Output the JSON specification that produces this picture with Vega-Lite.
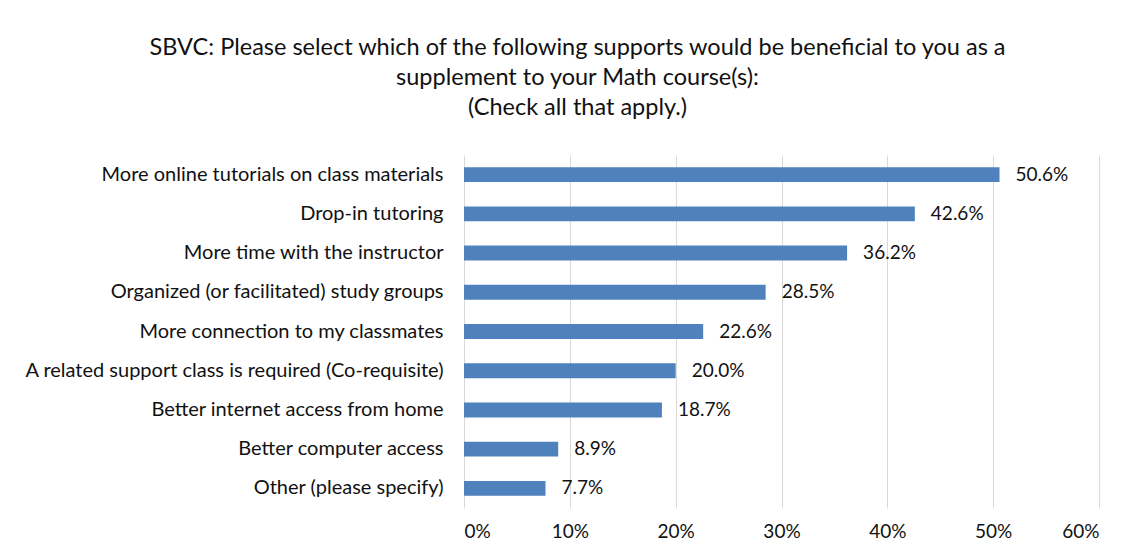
{
  "$schema": "https://vega.github.io/schema/vega-lite/v6.json",
  "width": 635,
  "height": 353,
  "autosize": {"type": "none"},
  "padding": {"left": 464, "top": 155, "right": 37, "bottom": 52},
  "background": "white",
  "title": {
    "text": ["SBVC: Please select which of the following supports would be beneficial to you as a", "supplement to your Math course(s):", "(Check all that apply.)"],
    "font": "Lato",
    "fontSize": 23.5,
    "fontWeight": "normal",
    "color": "#111111",
    "lineHeight": 30,
    "anchor": "middle",
    "dx": -204,
    "offset": 36
  },
  "data": {
    "values": [
      {"support": "More online tutorials on class materials", "pct": 0.506},
      {"support": "Drop-in tutoring", "pct": 0.426},
      {"support": "More time with the instructor", "pct": 0.362},
      {"support": "Organized (or facilitated) study groups", "pct": 0.285},
      {"support": "More connection to my classmates", "pct": 0.226},
      {"support": "A related support class is required (Co-requisite)", "pct": 0.200},
      {"support": "Better internet access from home", "pct": 0.187},
      {"support": "Better computer access", "pct": 0.089},
      {"support": "Other (please specify)", "pct": 0.077}
    ]
  },
  "encoding": {
    "y": {
      "field": "support",
      "type": "nominal",
      "sort": null,
      "scale": {"paddingInner": 0.62, "paddingOuter": 0.31},
      "axis": {
        "title": null,
        "ticks": false,
        "domain": false,
        "labelPadding": 21,
        "labelLimit": 0,
        "labelFont": "Lato",
        "labelFontSize": 20,
        "labelColor": "#111111"
      }
    },
    "x": {
      "field": "pct",
      "type": "quantitative",
      "scale": {"domain": [0, 0.6]},
      "axis": {
        "title": null,
        "format": ".0%",
        "values": [0, 0.1, 0.2, 0.3, 0.4, 0.5, 0.6],
        "ticks": false,
        "domain": false,
        "grid": true,
        "gridColor": "#d9d9d9",
        "gridWidth": 1,
        "labelPadding": 14,
        "labelFont": "Lato",
        "labelFontSize": 19,
        "labelColor": "#111111"
      }
    }
  },
  "layer": [
    {"mark": {"type": "bar", "color": "#4f81bd"}},
    {
      "mark": {"type": "text", "align": "left", "baseline": "middle", "dx": 16, "font": "Lato", "fontSize": 19, "color": "#111111"},
      "encoding": {"text": {"field": "pct", "type": "quantitative", "format": ".1%"}}
    }
  ],
  "config": {"view": {"stroke": null}}
}
